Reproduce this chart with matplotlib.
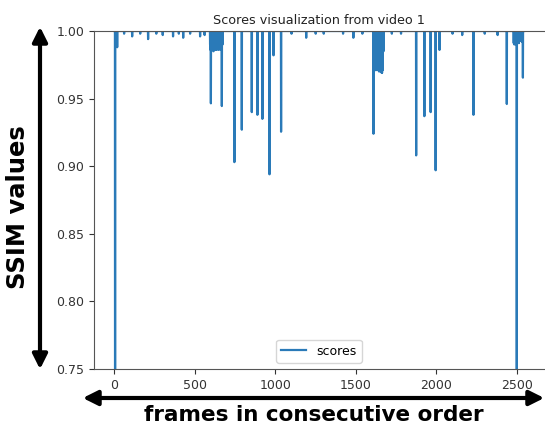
import numpy as np
import matplotlib
matplotlib.use("Agg")
import matplotlib.pyplot as plt
from matplotlib.patches import FancyArrowPatch

# ---- data ----
n_frames = 2546
baseline = 1.0
dip_frames = [4, 17, 60, 110, 160, 209, 260, 300, 364, 400, 427, 470, 532, 560,
              594, 597, 599, 603, 607, 611, 615, 619, 623, 627, 631, 635, 639, 643,
              647, 651, 655, 659, 663, 667, 671,
              745, 791, 853, 888, 919, 963, 988, 1035, 1100, 1191, 1250, 1300,
              1420, 1484, 1540,
              1609, 1612, 1616, 1620, 1624, 1628, 1632, 1636, 1640, 1644, 1648,
              1652, 1656, 1660, 1662, 1666, 1671,
              1723, 1780, 1874, 1925, 1964, 1995, 2019, 2100, 2160, 2230, 2300,
              2380, 2437, 2480, 2484, 2488, 2492, 2496, 2499, 2505, 2512, 2520, 2530, 2537]
dip_values = [0.60, 0.988, 0.998, 0.996, 0.998, 0.994, 0.998, 0.997, 0.996, 0.998, 0.995, 0.998, 0.996, 0.997,
              0.990, 0.986, 0.9465, 0.986, 0.987, 0.986, 0.985, 0.986, 0.987, 0.986, 0.988, 0.986, 0.987, 0.988,
              0.986, 0.987, 0.988, 0.986, 0.987, 0.9445, 0.990,
              0.903, 0.927, 0.940, 0.938, 0.935, 0.894, 0.982, 0.9255, 0.998, 0.995, 0.998, 0.998,
              0.998, 0.995, 0.998,
              0.924, 0.972, 0.971, 0.973, 0.971, 0.975, 0.972, 0.971, 0.973, 0.970, 0.972,
              0.971, 0.970, 0.969, 0.969, 0.971, 0.985,
              0.998, 0.998, 0.908, 0.937, 0.940, 0.897, 0.986, 0.998, 0.997, 0.938, 0.998,
              0.997, 0.946, 0.991, 0.990, 0.992, 0.991, 0.990, 0.60, 0.992, 0.991, 0.993, 0.992, 0.9655]
x_ticks = [0, 500, 1000, 1500, 2000, 2500]
y_ticks = [0.75, 0.80, 0.85, 0.90, 0.95, 1.00]
title = "Scores visualization from video 1"
series_label = "scores"
y_label = "SSIM values"
x_label = "frames in consecutive order"

scores = np.full(n_frames, baseline)
scores[dip_frames] = dip_values
frames = np.arange(n_frames)

W, H = 545, 430
fig = plt.figure(figsize=(W / 100, H / 100), dpi=100)
ax = fig.add_axes([94 / W, 1 - 369 / H, (549 - 94) / W, (369 - 31) / H])
ax.plot(frames, scores, color="#2a7ab8", lw=1.6, label=series_label)
ax.set_ylim(0.75, 1.0)
ax.set_xlim(-127, -127 + (549 - 94) / 0.161)
ax.set_xticks(x_ticks)
ax.set_yticks(y_ticks)
ax.tick_params(labelsize=9, colors="#333333")
for s in ax.spines.values():
    s.set_color("#555555")
ax.set_title(title, fontsize=9.2, color="#222222", pad=5, x=(319 - 94) / (549 - 94))
ax.legend(loc="lower center", fontsize=9, bbox_to_anchor=((319 - 94) / (549 - 94), 0.0))

# big arrows and labels
fig.patches.append(FancyArrowPatch((40 / W, 1 - 372 / H), (40 / W, 1 - 24 / H),
                                   transform=fig.transFigure, arrowstyle="<|-|>",
                                   mutation_scale=22, lw=3, color="black"))
fig.patches.append(FancyArrowPatch((80 / W, 1 - 398 / H), (547 / W, 1 - 398 / H),
                                   transform=fig.transFigure, arrowstyle="<|-|>",
                                   mutation_scale=22, lw=3, color="black"))
fig.text(18 / W, 1 - 207 / H, y_label, rotation=90, ha="center", va="center",
         fontsize=17.5, fontweight="bold", family="DejaVu Sans")
fig.text(314 / W, 1 - 415 / H, x_label, ha="center", va="center",
         fontsize=15.5, fontweight="bold", family="DejaVu Sans")

fig.savefig("out.png", dpi=100)
